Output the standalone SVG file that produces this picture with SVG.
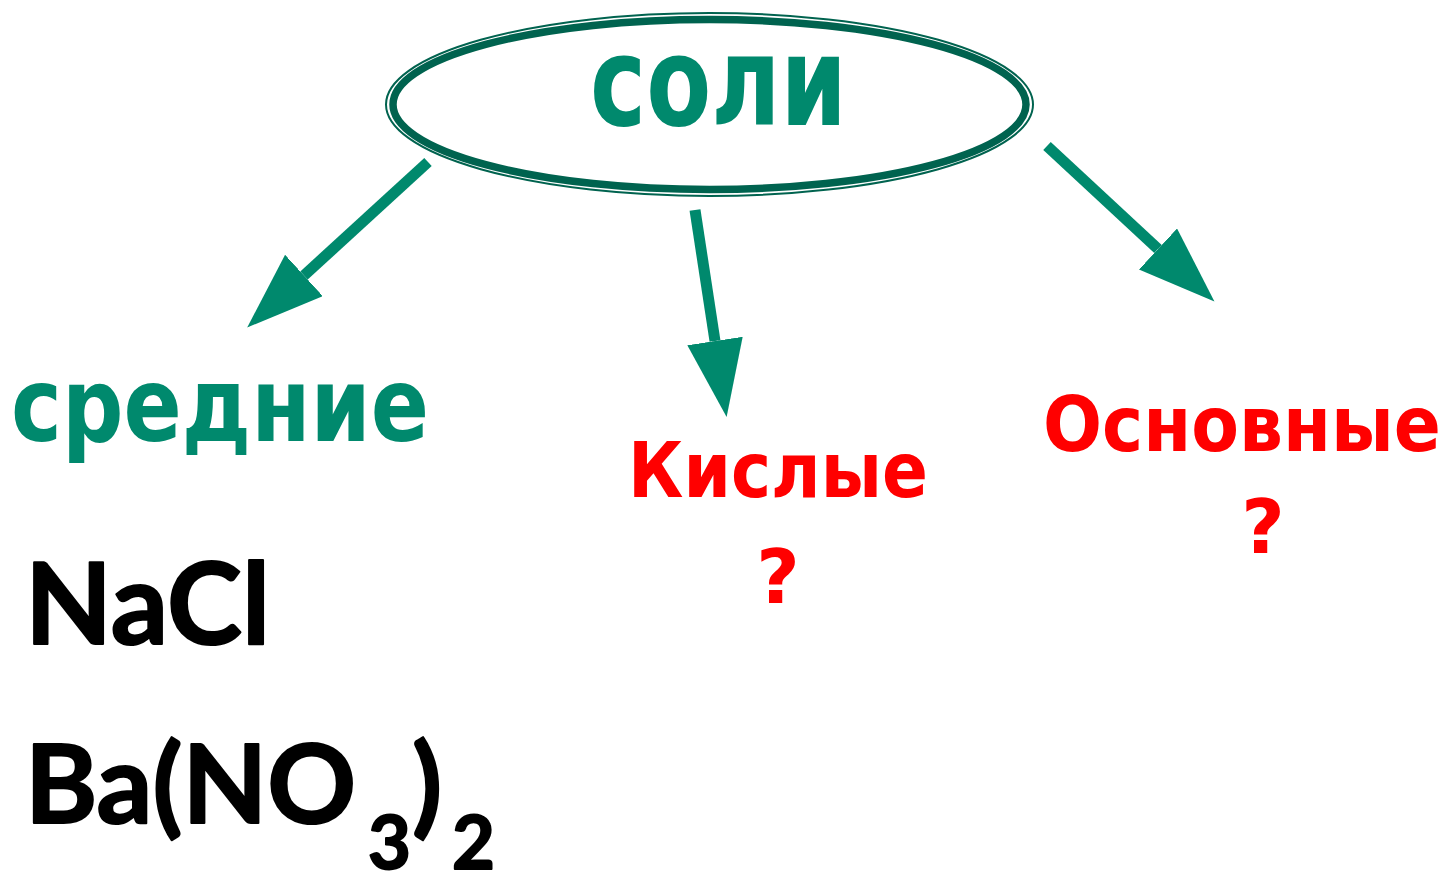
<svg xmlns="http://www.w3.org/2000/svg" width="1445" height="873" viewBox="0 0 1445 873">
  <style>
    .g { fill: #00896D; font-family: "DejaVu Sans", Verdana, sans-serif; font-weight: bold; }
    .r { fill: #FF0000; font-family: "DejaVu Sans", Verdana, sans-serif; font-weight: bold; }
    .k { fill: #000000; stroke: #000000; stroke-width: 2; stroke-linejoin: round; font-family: Lato, "Open Sans", sans-serif; font-weight: bold; }
    .arrow { stroke: #00896D; stroke-width: 11; fill: none; marker-end: url(#head); }
  </style>
  <defs>
    <marker id="head" markerUnits="userSpaceOnUse" markerWidth="80" markerHeight="60" refX="0" refY="28" orient="auto" viewBox="0 0 80 60">
      <path d="M0,0 L77,28 L0,56 Z" fill="#00896D"/>
    </marker>
  </defs>
  <rect width="1445" height="873" fill="#FFFFFF"/>

  <g id="connectors">
    <line class="arrow" x1="428" y1="162" x2="304" y2="275.5"/>
    <line class="arrow" x1="695" y1="210" x2="715" y2="341"/>
    <line class="arrow" x1="1047" y1="146" x2="1158" y2="249"/>
  </g>

  <g id="soli">
    <ellipse cx="709.5" cy="104.5" rx="323.5" ry="91.5" fill="none" stroke="#00634F" stroke-width="2"/>
    <ellipse cx="709.5" cy="104.5" rx="316.5" ry="85" fill="#FFFFFF" stroke="#00634F" stroke-width="7.5"/>
    <text class="g" x="590" y="125" font-size="124" textLength="257" lengthAdjust="spacingAndGlyphs">соли</text>
  </g>

  <g id="srednie">
    <text class="g" x="11" y="441" font-size="104" textLength="418" lengthAdjust="spacingAndGlyphs">средние</text>
  </g>

  <g id="kislye">
    <text class="r" x="628" y="497" font-size="76" textLength="300" lengthAdjust="spacingAndGlyphs">Кислые</text>
    <text class="r" x="778" y="603" font-size="75" text-anchor="middle">?</text>
  </g>

  <g id="osnovnye">
    <text class="r" x="1043" y="451" font-size="77" textLength="398" lengthAdjust="spacingAndGlyphs">Основные</text>
    <text class="r" x="1263" y="553" font-size="75" text-anchor="middle">?</text>
  </g>

  <g id="examples">
    <text class="k" x="25" y="644" font-size="113" textLength="245" lengthAdjust="spacingAndGlyphs">NaCl</text>
    <text class="k" font-size="110"><tspan x="25" y="823">Ba(NO</tspan><tspan x="368" y="869" font-size="74">3</tspan><tspan x="412" y="823">)</tspan><tspan x="452" y="869" font-size="74">2</tspan></text>
  </g>
</svg>
